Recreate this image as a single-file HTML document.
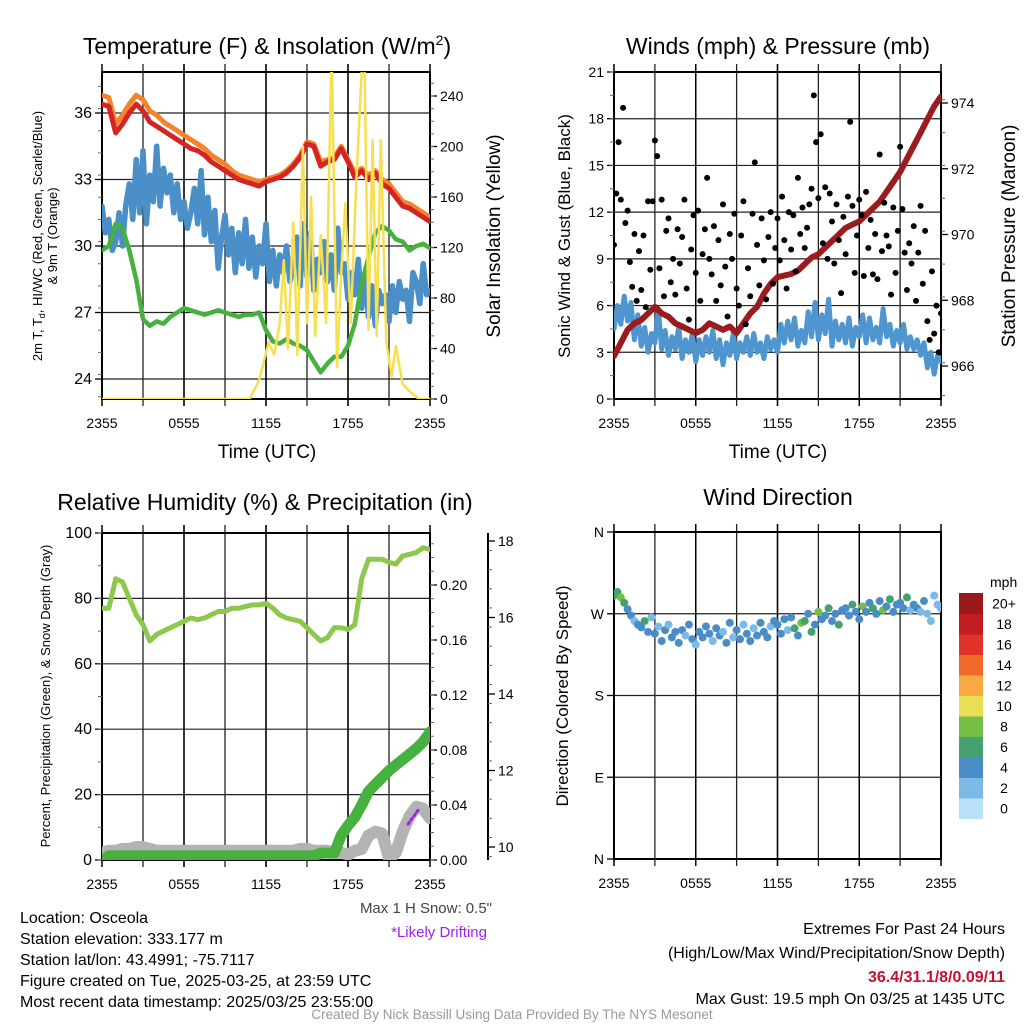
<!DOCTYPE html>
<html><head><meta charset="utf-8">
<style>
html,body{margin:0;padding:0;background:#fff;}
svg{display:block;font-family:"Liberation Sans",Arial,sans-serif;}
</style></head>
<body>
<svg id="fig" width="1024" height="1024" viewBox="0 0 1024 1024" xmlns="http://www.w3.org/2000/svg">
<defs>
<clipPath id="c1"><rect x="102" y="72" width="328" height="327"/></clipPath>
<clipPath id="c2"><rect x="614" y="72" width="327" height="327"/></clipPath>
<clipPath id="c3"><rect x="102" y="533" width="328" height="327"/></clipPath>
<clipPath id="c4"><rect x="614" y="532" width="327" height="327"/></clipPath>
</defs>
<g id="p1"></g>
<g id="p2"></g>
<g id="p3"></g>
<g id="p4"></g>

<text x="267" y="54" font-size="23" text-anchor="middle">Temperature (F) &amp; Insolation (W/m<tspan dy="-9" font-size="14">2</tspan><tspan dy="9">)</tspan></text>
<text x="778" y="54" font-size="23" text-anchor="middle">Winds (mph) &amp; Pressure (mb)</text>
<text x="265" y="510" font-size="23" text-anchor="middle">Relative Humidity (%) &amp; Precipitation (in)</text>
<text x="778" y="505" font-size="23" text-anchor="middle">Wind Direction</text>

<text x="267" y="458" font-size="19" text-anchor="middle">Time (UTC)</text>
<text x="778" y="458" font-size="19" text-anchor="middle">Time (UTC)</text>

<text transform="translate(42,236) rotate(-90)" font-size="13" text-anchor="middle">2m T, T<tspan font-size="9" dy="3">d</tspan><tspan dy="-3">, HI/WC (Red, Green, Scarlet/Blue)</tspan></text>
<text transform="translate(57,236) rotate(-90)" font-size="13" text-anchor="middle">&amp; 9m T (Orange)</text>
<text transform="translate(500,236) rotate(-90)" font-size="19" text-anchor="middle">Solar Insolation (Yellow)</text>
<text transform="translate(570,236) rotate(-90)" font-size="17" text-anchor="middle">Sonic Wind &amp; Gust (Blue, Black)</text>
<text transform="translate(1015,236) rotate(-90)" font-size="19" text-anchor="middle">Station Pressure (Maroon)</text>
<text transform="translate(50,696) rotate(-90)" font-size="13" text-anchor="middle">Percent, Precipitation (Green), &amp; Snow Depth (Gray)</text>
<text transform="translate(568,696) rotate(-90)" font-size="17" text-anchor="middle">Direction (Colored By Speed)</text>

<g id="cbar"></g>
<text x="990" y="587" font-size="14">mph</text>

<g font-size="16">
<text x="492" y="913" text-anchor="end" fill="#444" font-size="15">Max 1 H Snow: 0.5"</text>
<text x="487" y="937" text-anchor="end" fill="#a020f0" font-size="15">*Likely Drifting</text>
<text x="20" y="923">Location: Osceola</text>
<text x="20" y="944">Station elevation: 333.177 m</text>
<text x="20" y="965">Station lat/lon: 43.4991; -75.7117</text>
<text x="20" y="986">Figure created on Tue, 2025-03-25, at 23:59 UTC</text>
<text x="20" y="1007">Most recent data timestamp: 2025/03/25 23:55:00</text>
<text x="1005" y="934" text-anchor="end">Extremes For Past 24 Hours</text>
<text x="1005" y="958" text-anchor="end">(High/Low/Max Wind/Precipitation/Snow Depth)</text>
<text x="1005" y="982" text-anchor="end" fill="#c8102e" font-weight="bold">36.4/31.1/8/0.09/11</text>
<text x="1005" y="1004" text-anchor="end">Max Gust: 19.5 mph On 03/25 at 1435 UTC</text>
<text x="512" y="1019" text-anchor="middle" font-size="13.5" fill="#999">Created By Nick Bassill Using Data Provided By The NYS Mesonet</text>
</g>
</svg>
<script>
// ---- data (hours since 2355) ----
const xTickLabels = ["2355","0555","1155","1755","2355"];
const xTickHours = [0,6,12,18,24];
const temp2m = [36.4,36.3,35.1,35.5,36.0,36.4,36.1,35.6,35.4,35.2,35.0,34.8,34.6,34.4,34.3,34.1,33.8,33.6,33.4,33.2,33.0,32.9,32.8,32.7,32.9,33.0,33.1,33.3,33.6,34.0,34.6,34.5,33.6,33.8,33.9,34.4,33.8,33.1,33.4,33.0,33.3,32.8,32.6,32.2,31.8,31.7,31.5,31.3,31.1];
const temp9m = [36.8,36.7,35.5,35.9,36.4,36.8,36.6,36.1,35.9,35.6,35.4,35.2,35.0,34.8,34.6,34.4,34.1,33.9,33.7,33.4,33.2,33.1,33.0,32.9,33.0,33.1,33.2,33.4,33.7,34.1,34.7,34.6,33.8,33.9,34.0,34.5,33.9,33.3,33.5,33.2,33.4,33.0,32.8,32.4,32.0,31.9,31.7,31.5,31.3];
const dewpt = [29.8,30.0,31.0,30.8,29.8,28.5,26.7,26.4,26.6,26.5,26.8,27.0,27.2,27.1,27.0,26.9,27.0,27.1,27.0,26.9,26.8,26.9,26.9,27.0,26.2,25.7,25.6,25.8,25.6,25.5,25.3,24.8,24.3,24.7,25.0,25.0,25.5,26.5,28.3,29.5,30.6,30.9,30.7,30.3,30.2,29.8,30.0,30.1,29.9];
// 15-minute heat index / wind chill
const windChill = [31.8,30.6,31.2,29.8, 30.2,31.5,30.0,31.9, 32.8,31.2,33.9,31.5, 34.3,31.0,33.2,32.0, 34.5,31.8,33.5,32.4, 33.2,31.5,32.8,31.2, 32.0,30.8,31.5,32.6, 31.0,33.4,30.5,32.2, 30.2,31.6,29.0,30.4, 31.4,29.6,30.8,28.8, 30.6,29.2,31.2,29.0, 30.4,28.6,30.0,29.2, 31.0,28.4,29.8,28.2, 29.6,28.8,30.0,28.4, 29.0,30.4,28.2,31.0, 28.6,30.6,28.0,29.4, 28.8,30.2,28.4,29.6, 28.0,30.8,28.8,29.2, 27.6,28.8,27.8,29.4, 27.2,28.6,26.8,28.2, 26.4,28.0,27.4,27.8, 26.6,28.2,27.0,28.4, 27.6,28.0,26.6,28.8, 28.4,27.4,29.2,27.8, 28.0];
const solarHours = [0,10.8,11.5,12.2,12.6,13.0,13.3,13.6,14.0,14.3,14.7,15.0,15.3,15.6,16.0,16.4,16.8,17.2,17.5,17.8,18.2,18.6,19.0,19.2,19.5,19.8,20.1,20.4,20.8,21.2,21.5,22.0,22.5,23.2,24];
const solarVals = [0,0,15,45,35,60,110,40,140,35,200,60,160,50,130,60,278,25,100,155,60,170,260,272,55,205,50,205,45,18,42,12,6,0,0];
// 15-minute sonic wind
const sonicWind = [4.5,6.0,4.8,6.6, 5.0,6.2,3.8,5.4, 3.4,4.6,3.0,4.2, 3.6,5.8,3.2,4.4, 2.8,4.0,3.2,4.6, 2.6,3.8,3.0,4.2, 2.4,3.8,2.8,4.0, 3.0,4.4,2.6,3.8, 2.2,3.6,2.8,4.2, 2.6,3.6,3.0,4.0, 2.8,4.2,3.0,3.6, 2.6,4.0,3.2,3.8, 3.0,4.8,3.6,5.0, 3.8,5.2,3.4,4.4, 3.6,5.6,4.0,6.2, 3.8,5.4,4.2,6.4, 3.4,5.0,3.8,4.8, 3.6,5.2,3.4,4.6, 4.0,5.4,3.6,5.2, 3.8,4.6,3.6,5.8, 4.0,4.8,3.4,4.4, 3.6,4.8,3.2,4.0, 3.2,3.8,2.8,3.6, 2.0,3.0,1.6,2.8, 2.4];
const pressure = [966.3,966.7,967.1,967.3,967.4,967.6,967.8,967.6,967.5,967.3,967.2,967.1,967.0,967.1,967.3,967.2,967.1,967.2,967.0,967.3,967.6,967.8,968.2,968.5,968.7,968.75,968.8,968.9,969.1,969.3,969.4,969.6,969.8,970.0,970.2,970.3,970.4,970.6,970.8,971.0,971.3,971.6,971.9,972.3,972.7,973.1,973.5,973.9,974.2];
// gusts every 10 min
const gusts = [9.9,13.2,16.5,12.8,18.7,11.3, 12.1,8.8,7.2,10.6,6.3,9.5, 7.0,10.5,5.9,12.7,8.3,12.7, 16.6,15.6,8.4,12.8,6.6,10.8, 11.6,7.5,9.0,6.7,10.9,8.7, 10.4,12.8,7.1,5.1,9.6,11.8, 8.1,12.1,6.3,9.3,10.9,14.2, 9.0,8.0,11.1,6.3,10.2,7.3, 12.5,8.5,5.3,10.6,9.0,11.9, 7.1,6.0,10.5,12.7,4.8,8.4, 6.6,11.9,15.2,9.9,7.3,11.6, 8.9,6.4,10.4,12.0,7.4,9.7, 11.6,8.9,13.0,10.2,7.1,12.0, 9.6,11.8,8.2,14.2,10.6,12.3, 9.7,11.0,12.5,13.5,19.5,16.5, 12.9,17.0,10.0,13.6,9.0,13.2, 11.4,8.7,12.5,10.2,6.8,11.7, 9.3,13.0,17.8,12.4,8.1,10.5, 12.8,11.8,7.9,13.3,9.7,11.5, 8.0,10.6,7.7,15.7,9.5,12.6, 10.5,9.8,6.7,12.3,8.1,10.8, 16.2,12.2,9.4,7.0,10.0,8.7, 11.1,6.3,9.4,12.4,7.4,10.8, 5.0,3.8,8.2,4.2,6.0,3.0, 5.5];
const relHum = [77,77,86,85,80,75,72,67,69,70,71,72,73,74,73.5,74,75,76,76,77,77,77.5,78,78,78.5,77,75,74,73.5,73,71,69,67,68,71,71,70.5,72,86,92,92,92,91,90.5,93,93.5,94,95.5,95];
const precip = [0.000,0.003,0.003,0.003,0.003,0.003,0.003,0.003,0.003,0.003,0.003,0.003,0.003,0.003,0.003,0.003,0.003,0.003,0.003,0.003,0.003,0.003,0.003,0.003,0.003,0.003,0.003,0.003,0.003,0.003,0.003,0.003,0.005,0.005,0.005,0.018,0.025,0.031,0.040,0.050,0.055,0.060,0.065,0.069,0.073,0.077,0.081,0.086,0.093];
const snowDepth = [9.85,9.9,9.9,9.95,9.95,10.0,10.0,9.95,9.9,9.9,9.9,9.9,9.9,9.9,9.9,9.9,9.9,9.9,9.9,9.9,9.9,9.9,9.9,9.9,9.9,9.9,9.9,9.9,9.9,9.95,9.95,9.9,9.9,9.9,9.85,9.85,9.8,9.9,9.95,10.3,10.4,10.35,9.7,9.85,10.4,10.8,11.05,11.0,10.75];
const driftHours = [22.4,23.2];
const driftVals = [10.6,11.0];
// wind direction every 15 min
const windDir = [290,294,288,282, 275,268,262,258, 255,262,250,266, 248,256,240,252, 258,244,250,238, 252,246,258,242, 236,250,244,256, 248,240,254,246, 250,238,260,244, 252,242,258,248, 240,254,246,260, 250,244,256,262, 258,248,264,252, 266,254,246,260, 262,270,250,258, 272,264,268,276, 262,270,258,274, 276,268,280,272, 264,278,272,282, 276,270,284,274, 278,286,272,280, 282,276,288,274, 280,276,272,284, 270,262,290,280, 276];
const dirSpeed = [6.5,6.2,7.0,5.8, 4.0,3.5,2.0,3.8, 4.2,6.0,3.0,1.8, 3.6,2.2,4.0,3.2, 1.8,3.8,4.2,3.0, 3.4,2.0,4.0,3.6, 2.0,3.8,3.2,4.0, 3.0,1.8,3.6,4.2, 2.2,3.4,4.0,1.8, 3.8,3.0,2.0,3.6, 4.2,2.4,3.2,3.8, 3.4,4.0,2.0,3.6, 3.8,4.2,3.0,2.2, 3.6,6.0,4.0,7.0, 6.4,3.8,5.8,4.0, 8.2,4.0,3.6,6.2, 4.2,3.8,6.0,3.6, 4.0,3.2,6.4,4.2, 3.6,7.0,4.0,3.8, 6.2,4.0,3.4,7.2, 4.0,6.0,3.8,4.2, 3.6,4.0,6.2,2.2, 4.0,3.6,2.0,3.8, 1.8,2.2,2.4,1.6, 2.0];
const cbarLabels = ["0","2","4","6","8","10","12","14","16","18","20+"];
const cbarColors = ["#b7e2f7","#7cb9e6","#4a8cc7","#43a26f","#75be45","#e8df54","#f8a942","#f26a2b","#e0332a","#c11c22","#9a1a1c"];

// ---- helpers ----
const NS="http://www.w3.org/2000/svg";
function lin(d0,d1,r0,r1){return v=>r0+(v-d0)*(r1-r0)/(d1-d0);}
function mk(parent,tag,attrs){const e=document.createElementNS(NS,tag);for(const k in attrs)e.setAttribute(k,attrs[k]);parent.appendChild(e);return e;}
function poly(g,xs,ys,xf,yf,color,w,name,clip){
  const pts=xs.map((x,i)=>xf(x).toFixed(1)+","+yf(ys[i]).toFixed(1)).join(" ");
  const e=mk(g,"polyline",{points:pts,fill:"none",stroke:color,"stroke-width":w,"stroke-linejoin":"round","stroke-linecap":"round","clip-path":"url(#"+clip+")"});
  
  
  return e;
}
const halfHours = temp2m.map((_,i)=>i*0.5);
const tenMin = gusts.map((_,i)=>i/6);
const quarter = windDir.map((_,i)=>i/4);

function frame(g,x0,x1,y0,y1,X,hgridVals,Y){
  for(let h=3;h<24;h+=3){
    const l=mk(g,"line",{x1:X(h),x2:X(h),y1:y0-8,y2:y1+7,stroke:(h%6==0?"#666":"#222"),"stroke-width":1.3});
    
    
  }
  hgridVals.forEach(v=>{
    const l=mk(g,"line",{x1:x0,x2:x1,y1:Y(v),y2:Y(v),stroke:"#222","stroke-width":1.2});
    
    
  });
  const r=mk(g,"rect",{x:x0,y:y0,width:x1-x0,height:y1-y0,fill:"none",stroke:"#000","stroke-width":2});
  
  
  for(let h=0;h<=24;h+=6){
    const t=mk(g,"line",{x1:X(h),x2:X(h),y1:y0-8,y2:y1+7,stroke:"#000","stroke-width":1.5});
    
    
  }
  xTickHours.forEach((h,i)=>{
    const t=mk(g,"text",{x:X(h),y:y1+29,"font-size":14,"text-anchor":"middle"});
    t.textContent=xTickLabels[i];
    
    
  });
}
function yAxis(g,x,vals,labels,Y,side,minorStep,lo,hi,fs){
  vals.forEach((v,i)=>{
    const t=mk(g,"line",{x1:x,x2:x+(side<0?-7:7),y1:Y(v),y2:Y(v),stroke:"#000","stroke-width":1.3});
    
    
    const tx=mk(g,"text",{x:x+(side<0?-10:10),y:Y(v)+5,"font-size":fs||14,"text-anchor":side<0?"end":"start"});
    tx.textContent=labels[i];
    
    
  });
  if(minorStep){
    for(let v=lo;v<=hi+1e-9;v+=minorStep){
      const t=mk(g,"line",{x1:x,x2:x+(side<0?-4:4),y1:Y(v),y2:Y(v),stroke:"#666","stroke-width":1});
      
      
    }
  }
}

// ---- panel 1 ----
(function(){
  const g=document.getElementById("p1");
  const X=lin(0,24,102,430), T=lin(24,36,379,113), S=lin(0,240,399,96);
  frame(g,102,430,72,399,X,[24,27,30,33,36],T);
  yAxis(g,102,[24,27,30,33,36],["24","27","30","33","36"],T,-1,1,23.2,37.8,16);
  yAxis(g,430,[0,40,80,120,160,200,240],["0","40","80","120","160","200","240"],S,1,10,0,250,14);
  poly(g,quarter,windChill,X,T,"#4a8fc8",5.5,"heat-index-wind-chill-line","c1");
  poly(g,halfHours,dewpt,X,T,"#47b140",4.5,"dewpoint-line","c1");
  poly(g,halfHours,temp9m,X,T,"#f4832c",5,"temp-9m-line","c1");
  poly(g,halfHours,temp2m,X,T,"#d42424",5,"temp-2m-line","c1");
  poly(g,solarHours,solarVals,X,S,"#f7df52",2.5,"solar-insolation-line","c1");
})();

// ---- panel 2 ----
(function(){
  const g=document.getElementById("p2");
  const X=lin(0,24,614,941), W=lin(0,21,399,72), P=lin(966,974,366,103);
  frame(g,614,941,72,399,X,[3,6,9,12,15,18],W);
  yAxis(g,614,[0,3,6,9,12,15,18,21],["0","3","6","9","12","15","18","21"],W,-1,1.5,0,21,14);
  yAxis(g,941,[966,968,970,972,974],["966","968","970","972","974"],P,1,1,965.1,974.9,14);
  poly(g,quarter,sonicWind,X,W,"#4f96d0",5,"sonic-wind-line","c2");
  poly(g,halfHours,pressure,X,P,"#9b1c1f",6,"pressure-line","c2");
  gusts.forEach((v,i)=>{
    const c=mk(g,"circle",{cx:X(tenMin[i]),cy:W(v),r:3,fill:"#000","clip-path":"url(#c2)"});
    
    
  });
})();

// ---- panel 3 ----
(function(){
  const g=document.getElementById("p3");
  const X=lin(0,24,102,430), RH=lin(0,100,860,533), PR=lin(0,0.2,860,585), SN=lin(10,18,847,541);
  frame(g,102,430,533,860,X,[20,40,60,80],RH);
  yAxis(g,102,[0,20,40,60,80,100],["0","20","40","60","80","100"],RH,-1,10,0,100,16);
  yAxis(g,430,[0,0.04,0.08,0.12,0.16,0.20],["0.00","0.04","0.08","0.12","0.16","0.20"],PR,1,0.01,0,0.235,14);
  const ax=mk(g,"line",{x1:488,x2:488,y1:533,y2:860,stroke:"#000","stroke-width":2});
  
  
  yAxis(g,488,[10,12,14,16,18],["10","12","14","16","18"],SN,1,0.5,9.75,18.2,14);
  poly(g,halfHours,snowDepth,X,SN,"#b3b3b3",12,"snow-depth-line","c3");
  poly(g,halfHours,precip,X,PR,"#47b140",11,"precipitation-line","c3");
  poly(g,halfHours,relHum,X,RH,"#8cc84b",5,"relative-humidity-line","c3");
  const d=poly(g,driftHours,driftVals,X,SN,"#a020f0",3,"drifting-line","c3");
  d.setAttribute("stroke-dasharray","2 3");
})();

// ---- panel 4 ----
(function(){
  const g=document.getElementById("p4");
  const X=lin(0,24,614,941), D=lin(0,360,859,532);
  frame(g,614,941,532,859,X,[90,180,270],D);
  yAxis(g,614,[0,90,180,270,360],["N","E","S","W","N"],D,-1,0,0,0,14);
  windDir.forEach((v,i)=>{
    const bin=Math.min(10,Math.floor((dirSpeed[i]+1)/2));
    const c=mk(g,"circle",{cx:X(quarter[i]),cy:D(v),r:4,fill:cbarColors[bin],"clip-path":"url(#c4)"});
    
    
  });
  const cb=document.getElementById("cbar");
  const h=20.5, top=593;
  cbarLabels.forEach((lab,i)=>{
    const r=mk(cb,"rect",{x:959,y:top+(10-i)*h,width:24,height:h+0.5,fill:cbarColors[i]});
    
    
    const t=mk(cb,"text",{x:1004,y:top+(10-i)*h+h/2+5,"font-size":14,"text-anchor":"middle"});
    t.textContent=lab;
    
    
  });
})();
</script>
</body></html>
